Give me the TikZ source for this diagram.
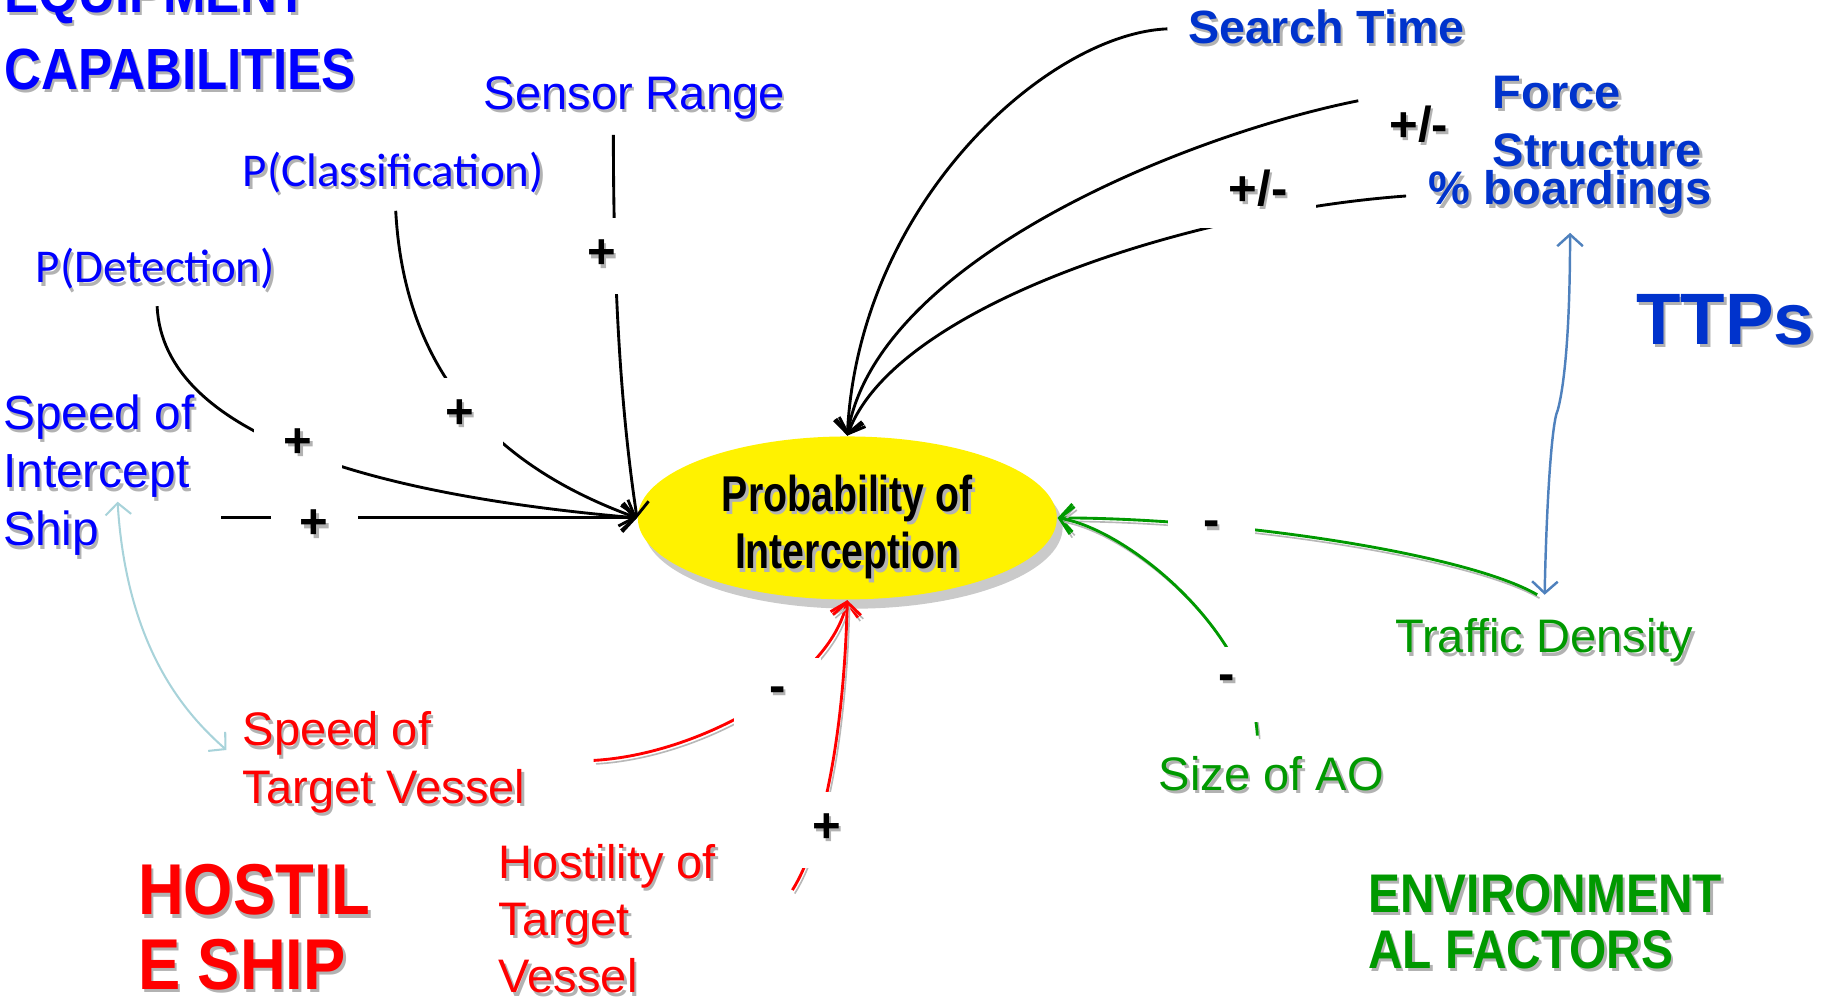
\documentclass[tikz,border=0pt]{standalone}
\usepackage{fontspec}
\setmainfont{Liberation Sans}
\newfontfamily\calibrifont{Carlito}
\newfontfamily\headfont[FakeStretch=0.88]{Liberation Sans}
\newfontfamily\ovalfont[FakeStretch=0.78]{Liberation Sans}
\usetikzlibrary{arrows.meta, calc, shapes.geometric, shadows}

\definecolor{capblue}{HTML}{0000FF}
\definecolor{ttpblue}{HTML}{0033CC}
\definecolor{hostred}{HTML}{FF0000}
\definecolor{envgreen}{HTML}{009900}
\definecolor{linkcyan}{HTML}{A8D3DA}
\definecolor{linksteel}{HTML}{4F81BD}

% grey copy of the text, shifted down-right
\newcommand{\sh}[1]{\rlap{\kern0.6pt\raisebox{-0.8pt}{\color{black!30}#1}}#1}

\tikzset{
  factor/.style={inner sep=0pt, anchor=base west, align=left, font=\fontsize{11.5}{14}\selectfont},
  heading/.style={inner sep=0pt, anchor=base west, align=left},
  sign/.style={fill=white, inner sep=0pt, minimum width=7.5mm, minimum height=6.5mm, font=\bfseries\fontsize{12}{14}\selectfont},
  wide sign/.style={sign, minimum width=10mm},
  link/.style={line width=0.7pt, ->},
  line shadow/.style={preaction={draw=black!28, transform canvas={shift={(0.2mm,-0.3mm)}}}},
  redlink/.style={link, hostred, line shadow},
  greenlink/.style={link, envgreen, line shadow},
  feedback/.style={line width=0.6pt, <->, >={Straight Barb[length=1mm,width=2.2mm]}}
}

\begin{document}
\begin{tikzpicture}[x=0.1mm, y=0.1mm, >={Straight Barb[length=1.1mm,width=2.4mm]}]
    \useasboundingbox (0,0) rectangle (1568,860);

    % the factor in the middle
    \node[ellipse, fill=yellow, minimum width=36mm, minimum height=14mm, inner sep=0pt, align=center,
          text height=24.9pt, text depth=0pt,
          font=\ovalfont\bfseries\fontsize{12.3}{14}\selectfont,
          drop shadow={shadow xshift=0.5mm, shadow yshift=-0.8mm, fill=black!60, opacity=0.35}]
          (prob) at (728,415) {\sh{Probability of}\\\sh{Interception}};

    % equipment side (multi-line nodes sit on their last baseline)
    \node[heading, text=capblue, font=\headfont\bfseries\fontsize{14.2}{18.8}\selectfont] (equip) at (3,783) {\sh{EQUIPMENT}\\\sh{CAPABILITIES}};
    \node[factor, text=capblue] (sensor) at (415,766) {\sh{Sensor Range}};
    \node[factor, text=capblue, font=\calibrifont\fontsize{11.5}{14}\selectfont] (pclass) at (208,700) {\sh{P(Classification)}};
    \node[factor, text=capblue, font=\calibrifont\fontsize{11.5}{14}\selectfont] (pdet) at (30,617) {\sh{P(Detection)}};
    \node[factor, text=capblue, font=\fontsize{11.7}{14.2}\selectfont] (spint) at (2,391) {\sh{Speed of}\\\sh{Intercept}\\\sh{Ship}};

    % TTPs
    \node[heading, text=ttpblue, font=\bfseries\fontsize{11.4}{14.2}\selectfont] (search) at (1020,823) {\sh{Search Time}};
    \node[heading, text=ttpblue, font=\bfseries\fontsize{11.5}{14.2}\selectfont] (force) at (1282,717) {\sh{Force}\\\sh{Structure}};
    \node[heading, text=ttpblue, font=\bfseries\fontsize{11.5}{14.2}\selectfont] (board) at (1227,684) {\sh{\% boardings}};
    \node[heading, text=ttpblue, font=\bfseries\fontsize{17.8}{20}\selectfont] (ttps) at (1405,564) {\sh{TTPs}};

    % environment
    \node[factor, text=envgreen] (traffic) at (1198,299) {\sh{Traffic Density}};
    \node[factor, text=envgreen] (sizeao) at (995,181) {\sh{Size of AO}};
    \node[heading, text=envgreen, font=\headfont\bfseries\fontsize{13.3}{13.7}\selectfont] (env) at (1175,28) {\sh{ENVIRONMENT}\\\sh{AL FACTORS}};

    % hostile ship
    \node[heading, text=hostred, font=\headfont\bfseries\fontsize{17.6}{18.2}\selectfont] (hostile) at (118,10) {\sh{HOSTIL}\\\sh{E SHIP}};
    \node[factor, text=hostred] (sptarget) at (208,170) {\sh{Speed of}\\\sh{Target Vessel}};
    \node[factor, text=hostred] (hostility) at (428,7) {\sh{Hostility of}\\\sh{Target}\\\sh{Vessel}};

    % links into the oval
    \draw[link] ($(sensor.south west)+(112,-10)$) .. controls +(0,-150) and +(-12,80) .. (prob.west);
    \draw[link] ($(pclass.south west)+(132,-12)$) .. controls +(8,-150) and +(-110,40) .. (prob.west);
    \draw[link] ($(pdet.south west)+(105,-11)$) .. controls +(5,-110) and +(-230,20) .. (prob.west);
    \draw[link, shorten <=2.2mm] (spint.east |- prob.west) -- (prob.west);

    \draw[link, shorten <=1.7mm] (search.west) .. controls +(-120,-5) and +(10,200) .. (prob.north);
    \draw[link] ($(force.north west)+(-115,-22)$) .. controls +(-150,-30) and +(25,150) .. (prob.north);
    \draw[link, shorten <=1.9mm] (board.west) .. controls +(-208,-15) and +(40,110) .. (prob.north);

    \draw[greenlink] ($(traffic.north)+(-6,20)$) .. controls +(-60,35) and +(150,0) .. (prob.east);
    \draw[greenlink] ($(sizeao.north)+(-12,17)$) .. controls +(-5,90) and +(60,-10) .. (prob.east);

    \draw[redlink] ($(sptarget.east)+(58,3)$) .. controls +(90,5) and +(-15,-70) .. (prob.south);
    \draw[redlink] ($(hostility.east)+(65,26)$) .. controls +(25,40) and +(-3,-120) .. (prob.south);

    % two-way links between factors
    \draw[feedback, linkcyan, line width=0.5pt, shorten >=1.8mm] ($(spint.south)+(16,50)$) .. controls +(8,-130) and +(-45,40) .. (sptarget.west);
    \coordinate (kink) at ($(board.south)!0.48!(traffic.north)$);
    \draw[feedback, linksteel, shorten <=1.2mm, shorten >=2mm] (board.south) .. controls +(0,-110) and +(4,14) .. (kink)
        .. controls +(-5,-10) and +(2,100) .. (traffic.north);

    % polarity signs, boxed in white so they break the lines
    \node[sign] (pSensor) at (517,640) {\sh{+}};
    \node[sign] (pClass) at (395,503) {\sh{+}};
    \node[sign] (pDet) at (256,478) {\sh{+}};
    \node[sign] (pSpeed) at (270,408) {\sh{+}};
    \node[sign] (pHost) at (710,147) {\sh{+}};
    \node[sign] (mSpeed) at (668,262) {\sh{-}};
    \node[sign] (mTraffic) at (1041,404) {\sh{-}};
    \node[sign] (mSize) at (1054,272) {\sh{-}};
    \node[wide sign] (pmForce) at (1219,752) {\sh{+/-}};
    \node[wide sign] (pmBoard) at (1081,697) {\sh{+/-}};
\end{tikzpicture}
\end{document}
